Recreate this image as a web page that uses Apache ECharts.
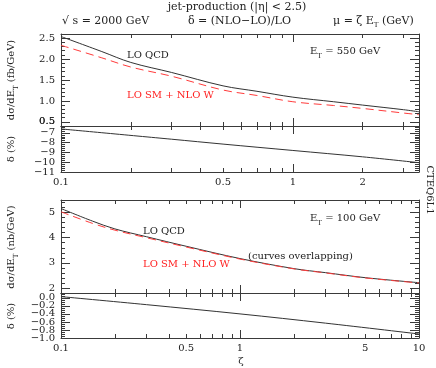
<!DOCTYPE html>
<html><head><meta charset="utf-8">
<script src="https://cdn.jsdelivr.net/npm/echarts@6/dist/echarts.min.js"></script>
<style>html,body{margin:0;padding:0;background:#fff}#c{width:436px;height:368px}</style>
</head><body><div id="c"></div>
<script>
// ---------- data ----------
const zetaTop = [0.1, 0.15, 0.2, 0.3, 0.5, 0.7, 1, 1.5, 2, 3, 3.5];
const loQcd550 = [2.54, 2.18, 1.92, 1.68, 1.36, 1.23, 1.09, 0.98, 0.90, 0.79, 0.74];
const loSmNloW550 = [2.33, 2.03, 1.81, 1.59, 1.26, 1.13, 0.98, 0.89, 0.82, 0.71, 0.67];
const zetaTopDelta = [0.1, 0.3, 0.5, 1, 2, 3.5];
const delta550 = [-6.6, -7.65, -8.15, -8.8, -9.45, -10.05];

const zetaBot = [0.1, 0.15, 0.2, 0.3, 0.5, 1, 2, 3, 5, 10];
const loQcd100 = [5.16, 4.66, 4.35, 4.04, 3.66, 3.17, 2.77, 2.61, 2.41, 2.21];
const loSmNloW100 = [5.03, 4.57, 4.30, 4.00, 3.63, 3.15, 2.76, 2.60, 2.40, 2.20];
const zetaBotDelta = [0.1, 0.3, 1, 3, 10];
const delta100 = [0.03, -0.17, -0.40, -0.63, -0.90];

const xLabelsTop = [0.1, 0.5, 1, 2];
const xLabelsBot = [0.1, 0.5, 1, 5, 10];
const yLabelsTopMain = [0.5, 1.0, 1.5, 2.0, 2.5];
const yLabelsTopDelta = [-7, -8, -9, -10, -11];
const yLabelsBotMain = [2, 3, 4, 5];
const yLabelsBotDelta = [0.0, -0.2, -0.4, -0.6, -0.8, -1.0];

// ---------- helpers ----------
const FF = 'DejaVu Serif';
const AX = '#3a3a3a';
const L = Math.log10;
function range(a, b, s) { const r = []; for (let v = a; v <= b + 1e-9; v += s) r.push(+v.toFixed(4)); return r; }
const pair = (xs, ys) => xs.map((x, i) => [x, ys[i]]);
const minus = s => s.replace('-', '\u2212');

const panels = [
  { left: 61, right: 17, top: 34, height: 92 },
  { left: 61, right: 17, top: 126, height: 46 },
  { left: 61, right: 17, top: 200, height: 93 },
  { left: 61, right: 17, top: 293, height: 45 }
];
const grids = panels.concat(panels.map(p => Object.assign({}, p)));
const xAxis = [], yAxis = [];
const dataX = [], dataY = [];
const LBL = { color: '#222', fontFamily: FF, fontSize: 10 };

function addX(gi, zmin, zmax, minor, major, labels) {
  dataX[gi] = xAxis.length;
  xAxis.push({ gridIndex: gi, type: 'log', logBase: 10, min: zmin, max: zmax, show: false, axisLine: { onZero: false } });
  const base = { gridIndex: gi, type: 'value', min: L(zmin), max: L(zmax), splitLine: { show: false } };
  ['bottom', 'top'].forEach(pos => {
    xAxis.push(Object.assign({}, base, {
      position: pos,
      axisLine: { show: true, onZero: false, lineStyle: { color: AX, width: 1 } },
      axisTick: { show: true, inside: true, length: 4, customValues: minor.map(L), lineStyle: { color: AX } },
      axisLabel: { show: false }
    }));
    xAxis.push(Object.assign({}, base, {
      position: pos, axisLine: { show: false, onZero: false },
      axisTick: { show: true, inside: true, length: 8, customValues: major.map(L), lineStyle: { color: AX } },
      axisLabel: { show: false }
    }));
  });
  if (labels) {
    labels.forEach(z => {
      xAxis.push(Object.assign({}, base, {
        position: 'bottom', axisLine: { show: false, onZero: false }, axisTick: { show: false },
        axisLabel: Object.assign({}, LBL, { show: true, customValues: [L(z)], margin: 5,
          formatter: v => String(+Math.pow(10, v).toPrecision(3)) })
      }));
    });
  }
  xAxis.push({ gridIndex: gi + 4, type: 'value', min: 0, max: 1, show: false, axisLine: { onZero: false } });
}
const yRanges = [];
function addY(gi, min, max, minor, labels, fmt) {
  dataY[gi] = yAxis.length;
  yRanges[gi] = [min, max];
  const base = { gridIndex: gi, type: 'value', min, max, splitLine: { show: false } };
  ['left', 'right'].forEach(pos => {
    yAxis.push(Object.assign({}, base, {
      position: pos,
      axisLine: { show: true, onZero: false, lineStyle: { color: AX, width: 1 } },
      axisTick: { show: true, inside: true, length: 4, customValues: minor, lineStyle: { color: AX } },
      axisLabel: { show: false }
    }));
    yAxis.push(Object.assign({}, base, {
      position: pos, axisLine: { show: false, onZero: false },
      axisTick: { show: true, inside: true, length: 9, customValues: labels, lineStyle: { color: AX } },
      axisLabel: { show: false }
    }));
  });
  labels.forEach(v => {
    yAxis.push({
      gridIndex: gi + 4, type: 'value', min, max, splitLine: { show: false },
      position: 'left', axisLine: { show: false, onZero: false }, axisTick: { show: false },
      axisLabel: Object.assign({}, LBL, { show: true, customValues: [v], margin: 6, formatter: fmt })
    });
  });
}

const xMinorTop = [0.2, 0.3, 0.4, 0.5, 0.6, 0.7, 0.8, 0.9, 2, 3];
const xMinorBot = [0.2, 0.3, 0.4, 0.5, 0.6, 0.7, 0.8, 0.9, 2, 3, 4, 5, 6, 7, 8, 9];
addX(0, 0.1, 3.5, xMinorTop, [1], null);
addX(1, 0.1, 3.5, xMinorTop, [1], xLabelsTop);
addX(2, 0.1, 10, xMinorBot, [1], null);
addX(3, 0.1, 10, xMinorBot, [1], xLabelsBot);

const fmtTopMain = v => v.toFixed(1);
// the lowest label of the upper panel is added as text below (ECharts drops it as an axis label)
addY(0, 0.4, 2.6, range(0.4, 2.6, 0.1), yLabelsTopMain, fmtTopMain);
addY(1, -11, -6.3, range(-11, -6.4, 0.2), yLabelsTopDelta, v => minus(String(v)));
addY(2, 1.8, 5.5, range(1.8, 5.4, 0.2), yLabelsBotMain, v => String(v));
addY(3, -1.0, 0.12, range(-1.0, 0.1, 0.05), yLabelsBotDelta, v => minus(v.toFixed(1)));

function line(gi, xs, ys, color, dashed) {
  return {
    type: 'line', xAxisIndex: dataX[gi], yAxisIndex: dataY[gi], data: pair(xs, ys),
    smooth: 0.35, showSymbol: false, symbol: 'none', silent: true, animation: false,
    lineStyle: { color, width: 1, type: dashed ? [8, 5] : 'solid' }, z: dashed ? 3 : 2
  };
}
const BLK = '#333';
const RED = '#ff3b3b';
const series = [
  line(0, zetaTop, loQcd550, BLK, false),
  line(0, zetaTop, loSmNloW550, RED, true),
  line(1, zetaTopDelta, delta550, BLK, false),
  line(2, zetaBot, loQcd100, BLK, false),
  line(2, zetaBot, loSmNloW100, RED, true),
  line(3, zetaBotDelta, delta100, BLK, false)
];

const RICH = {
  n: { fontFamily: FF, fontSize: 10, lineHeight: 11, verticalAlign: 'top', fill: '#222' },
  h: { fontFamily: FF, fontSize: 11, lineHeight: 12, verticalAlign: 'top', fill: '#222' },
  s: { fontFamily: FF, fontSize: 7, lineHeight: 8, padding: [6, 0, 0, 0], verticalAlign: 'top', fill: '#222' },
  r: { fontFamily: FF, fontSize: 10, lineHeight: 11, verticalAlign: 'top', fill: '#ff2020' }
};
function txt(x, y, text, o) {
  o = o || {};
  return {
    type: 'text', x, y, rotation: o.rot || 0, silent: true, z: 100,
    style: { text, fontFamily: FF, fontSize: 10, fill: o.color || '#222', align: o.align || 'left', verticalAlign: 'middle', rich: RICH }
  };
}
// position of the lowest top-panel label from that panel's axis range
const p0 = panels[0], r0 = yRanges[0], low = yLabelsTopMain[0];
const lowY = p0.top + p0.height * (r0[1] - low) / (r0[1] - r0[0]);

const graphic = [
  txt(237, 8, '{h|jet-production (|\u03b7| < 2.5)}', { align: 'center' }),
  txt(62, 22, '{h|\u221a s = 2000 GeV}'),
  txt(188, 22, '{h|\u03b4 = (NLO\u2212LO)/LO}'),
  txt(333, 22, '{h|\u03bc = \u03b6 E}{s|T}{h| (GeV)}'),
  txt(12, 80, '{n|d\u03c3/dE}{s|T}{n| (fb/GeV)}', { align: 'center', rot: Math.PI / 2 }),
  txt(12, 149, '{n|\u03b4 (%)}', { align: 'center', rot: Math.PI / 2 }),
  txt(12, 247, '{n|d\u03c3/dE}{s|T}{n| (nb/GeV)}', { align: 'center', rot: Math.PI / 2 }),
  txt(12, 316, '{n|\u03b4 (%)}', { align: 'center', rot: Math.PI / 2 }),
  txt(429, 190, '{n|CTEQ6L1}', { align: 'center', rot: -Math.PI / 2 }),
  txt(241, 362, '{n|\u03b6}', { align: 'center' }),
  txt(127, 56, '{n|LO QCD}'),
  txt(127, 96, '{r|LO SM + NLO W}'),
  txt(310, 52, '{n|E}{s|T}{n| = 550 GeV}'),
  txt(143, 232, '{n|LO QCD}'),
  txt(143, 265, '{r|LO SM + NLO W}'),
  txt(310, 219, '{n|E}{s|T}{n| = 100 GeV}'),
  txt(248, 257, '{n|(curves overlapping)}'),
  {
    type: 'text', x: p0.left - 6, y: lowY, silent: true, z: 100,
    style: { text: fmtTopMain(low), fontFamily: FF, fontSize: 10, fill: '#222', align: 'right', verticalAlign: 'middle' }
  }
];

const chart = echarts.init(document.getElementById('c'), null, { renderer: 'canvas' });
chart.setOption({
  animation: false,
  backgroundColor: '#fff',
  grid: grids,
  xAxis, yAxis, series, graphic
});
</script></body></html>
